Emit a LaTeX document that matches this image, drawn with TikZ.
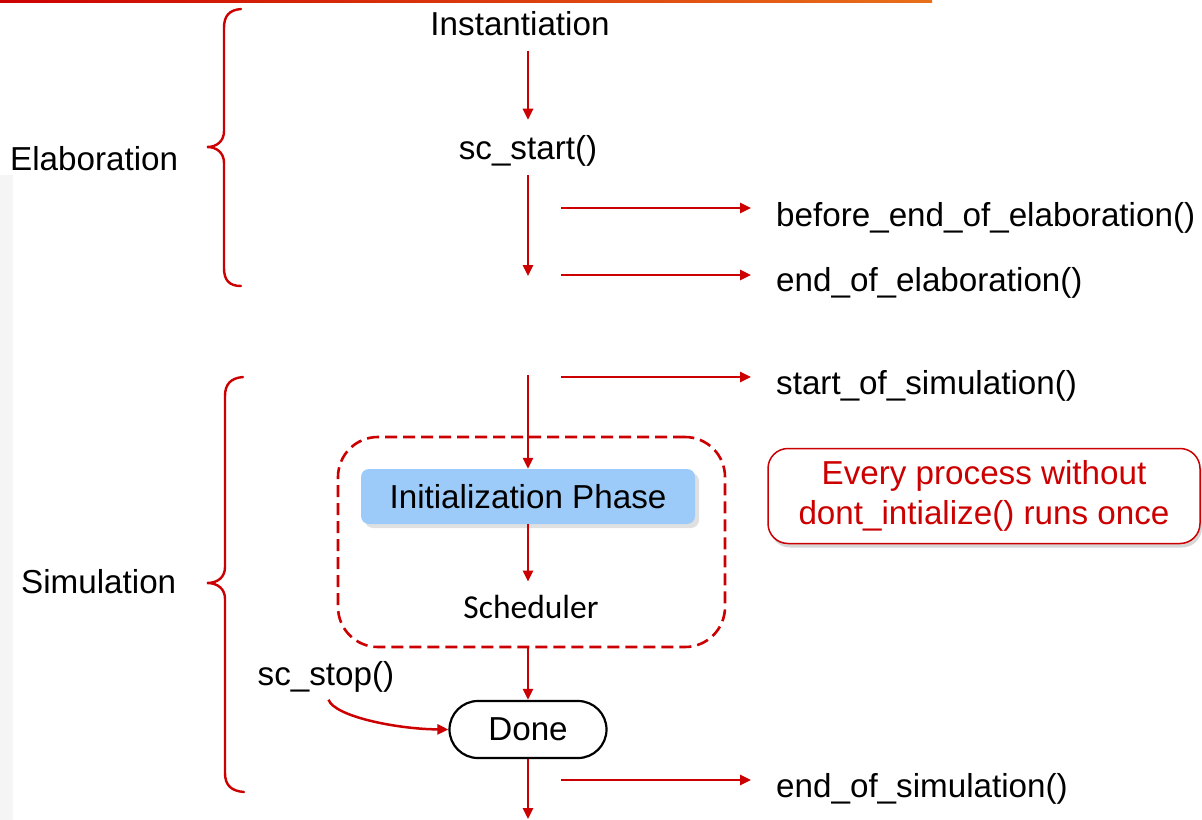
\documentclass[tikz,border=0pt]{standalone}
\usepackage{fontspec}
\setmainfont{Liberation Sans}
\newfontfamily\calibrifont{Carlito}
\usetikzlibrary{arrows.meta,shapes.misc,shadows}
\definecolor{sred}{HTML}{CC0000}
\definecolor{sorange}{HTML}{E8701A}
\definecolor{phaseblue}{HTML}{9CCBF9}
\newcommand\bigtxt{\fontsize{33.2bp}{40bp}\selectfont}

\begin{document}
\begin{tikzpicture}[x=1bp,y=-1bp,
  flow/.style={draw=sred, line width=2.5bp, -{Triangle[length=11bp,width=10bp]}},
  lbl/.style={font=\bigtxt, inner sep=0pt, anchor=base},
  hooklbl/.style={font=\bigtxt, inner sep=0pt, anchor=base west},
  brace/.style={draw=sred, line width=2.4bp, line cap=round},
]
\useasboundingbox (0,0) rectangle (1202,820);
\fill[white] (0,0) rectangle (1202,820);
% faint margin strip and top rule
\fill[black!4] (0,175) rectangle (13,820);
\shade[left color=sred, right color=sorange] (0,0) rectangle (932,2.5);

% phase labels and braces
\node[hooklbl] (elab) at (10,170) {Elaboration};
\node[hooklbl] (simu) at (21,593) {Simulation};
\draw[brace] (241,9) .. controls (229,10) and (224,16) .. (224,28) -- (224,131)
  .. controls (224,141) and (217,147) .. (207,147)
  .. controls (217,147) and (224,153) .. (224,163) -- (224,268)
  .. controls (224,280) and (229,286) .. (241,286);
\draw[brace] (243,377) .. controls (231,378) and (225,384) .. (225,396) -- (225,567)
  .. controls (225,577) and (218,583) .. (207,583)
  .. controls (218,583) and (225,589) .. (225,599) -- (225,773)
  .. controls (225,785) and (231,791) .. (244,792);

% main flow
\node[lbl] (inst) at (520,36) {Instantiation};
\node[lbl] (start) at (528,159) {sc\_start()};
\coordinate (elabend) at (528,276);
\coordinate (simbegin) at (528,375);

\node[fill=phaseblue, rounded corners=8bp, minimum width=334bp, minimum height=55bp,
      inner sep=0pt, font=\bigtxt,
      drop shadow={shadow xshift=4bp, shadow yshift=-4bp, fill=black!12, opacity=1}]
      (init) at (528,496.5) {Initialization Phase};
\node[font=\calibrifont\fontsize{33.5bp}{40bp}\selectfont, inner sep=0pt, anchor=base]
      (sched) at (531,618) {Scheduler};
\node[draw=sred, line width=2.6bp, dash pattern=on 12bp off 6bp, rounded corners=40bp,
      minimum width=387bp, minimum height=210bp, inner sep=0pt]
      (loop) at (531.5,542) {};

\node[draw=black, line width=2.2bp, rounded rectangle, minimum width=157bp,
      minimum height=57bp, inner sep=0pt, font=\bigtxt] (done) at (528,729.5) {Done};
\node[lbl] (stop) at (326,685) {sc\_stop()};
\coordinate (exit) at (528,819);

\draw[flow, shorten <=14bp, shorten >=15bp] (inst.south -| start.north) -- (start.north);
\draw[flow, shorten <=9bp] (start.south) -- (elabend);
\draw[flow] (simbegin) -- (init.north);
\draw[flow, shorten >=13bp] (init.south) -- (init.south |- sched.north);
\draw[flow] (loop.south -| done.north) -- (done.north);
\draw[flow] (done.south) -- (exit);
\draw[flow, shorten <=8bp] (stop.south) .. controls (334,716) and (395,729) .. (done.west);

% callback hooks
\node[hooklbl] (bee) at (776,226) {before\_end\_of\_elaboration()};
\node[hooklbl] (eoe) at (776,291) {end\_of\_elaboration()};
\node[hooklbl] (sos) at (776,394) {start\_of\_simulation()};
\node[hooklbl] (eos) at (776,797) {end\_of\_simulation()};
\coordinate (h1) at (561,208);
\coordinate (h2) at (561,275);
\coordinate (h3) at (561,377);
\coordinate (h4) at (561,780);
\draw[flow, shorten >=25bp] (h1) -- (h1 -| bee.west);
\draw[flow, shorten >=25bp] (h2) -- (h2 -| eoe.west);
\draw[flow, shorten >=25bp] (h3) -- (h3 -| sos.west);
\draw[flow, shorten >=25bp] (h4) -- (h4 -| eos.west);

% note
\node[draw=sred, line width=1.5bp, fill=white, rounded corners=20bp,
      minimum width=432bp, minimum height=95bp, inner sep=0pt,
      text=sred, font=\bigtxt, align=center,
      drop shadow={shadow xshift=2bp, shadow yshift=-4bp, fill=black!20, opacity=0.8}]
      (note) at (984,496) {Every process without\\dont\_intialize() runs once};
\end{tikzpicture}
\end{document}
